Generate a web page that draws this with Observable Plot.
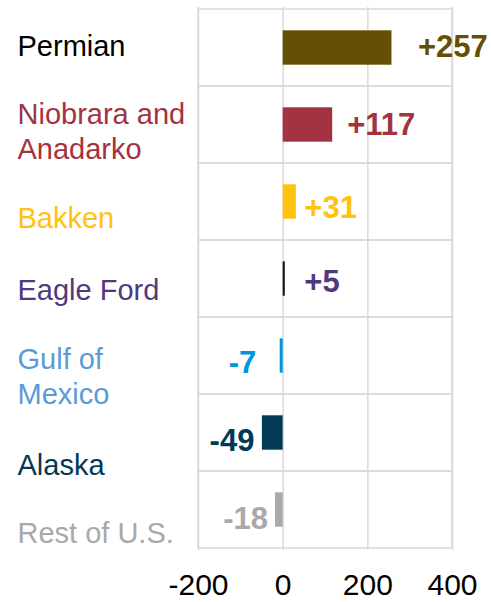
<!DOCTYPE html>
<html>
<head>
<meta charset="utf-8">
<script src="https://cdn.jsdelivr.net/npm/d3@7"></script>
<script src="https://cdn.jsdelivr.net/npm/@observablehq/plot@0.6"></script>
<style>
  html, body { margin: 0; padding: 0; background: #fff; }
  #chart svg { display: block; }
</style>
</head>
<body>
<div id="chart"></div>
<script>
// ---- data ----
const categories = ["Permian", "Niobrara and\nAnadarko", "Bakken", "Eagle Ford", "Gulf of\nMexico", "Alaska", "Rest of U.S."];
const values = [257, 117, 31, 5, -7, -49, -18];
const xTicks = [-200, 0, 200, 400];

// ---- styles ----
const labelColor = ["#000000", "#a33340", "#ffc20e", "#4f3a7e", "#5b9bd5", "#003a56", "#a9a9a9"];
const barColor   = ["#654f05", "#a33340", "#ffc20e", "#111111", "#0096d7", "#003a56", "#a9a9a9"];
const valueColor = ["#654f05", "#a33340", "#ffc20e", "#4f3a7e", "#0096d7", "#003a56", "#a9a9a9"];
// small per-label nudges (layout only)
const catDy   = [-3, 5.6, 15, 9.5, 19, 30.5, 22];
const valDx   = [26, 14.5, 8, 19, 24, 8, 7.5];
const valDy   = [-0.9, -0.4, 6.1, 2.6, 7.1, 7.6, 9.1];

const rows = categories.map((c, i) => ({cat: c, value: values[i], i}));
const fmt = v => (v > 0 ? "+" + v : String(v));
const font = "Arial, 'Liberation Sans', Helvetica, sans-serif";
const grid = "#d9d9d9";

const marks = [
  // row cells (horizontal grid + frame)
  Plot.barX(categories, {x1: -200, x2: 400, y: d => d, fill: "none", stroke: grid, strokeWidth: 1.5}),
  // vertical grid
  Plot.ruleX(xTicks, {stroke: grid, strokeWidth: 1.5}),
  // bars
  Plot.barX(rows, {x: "value", y: "cat", fill: d => barColor[d.i], insetTop: 21.3, insetBottom: 21.3}),
  Plot.axisX({ticks: xTicks, tickSize: 0, tickPadding: 23, fontSize: 30, tickFormat: d => String(d), label: null, fill: "#000"})
];

rows.forEach(r => {
  marks.push(Plot.text([r], {
    y: "cat", text: "cat", frameAnchor: "left", dx: -181, dy: catDy[r.i],
    textAnchor: "start", fill: labelColor[r.i], fontSize: 29, lineHeight: 1.2
  }));
  marks.push(Plot.text([r], {
    x: "value", y: "cat", text: d => fmt(d.value),
    textAnchor: r.value >= 0 ? "start" : "end",
    dx: r.value >= 0 ? valDx[r.i] : -valDx[r.i], dy: valDy[r.i],
    fill: valueColor[r.i], fontSize: 31, fontWeight: "bold"
  }));
});

const chart = Plot.plot({
  width: 491,
  height: 602,
  marginLeft: 198,
  marginRight: 39,
  marginTop: 7,
  marginBottom: 52,
  style: {fontFamily: font, fontSize: "30px", background: "#fff", color: "#000", overflow: "visible"},
  x: {domain: [-200, 400], axis: null},
  y: {domain: categories, padding: 0, axis: null},
  marks
});
document.getElementById("chart").appendChild(chart);
</script>
</body>
</html>
